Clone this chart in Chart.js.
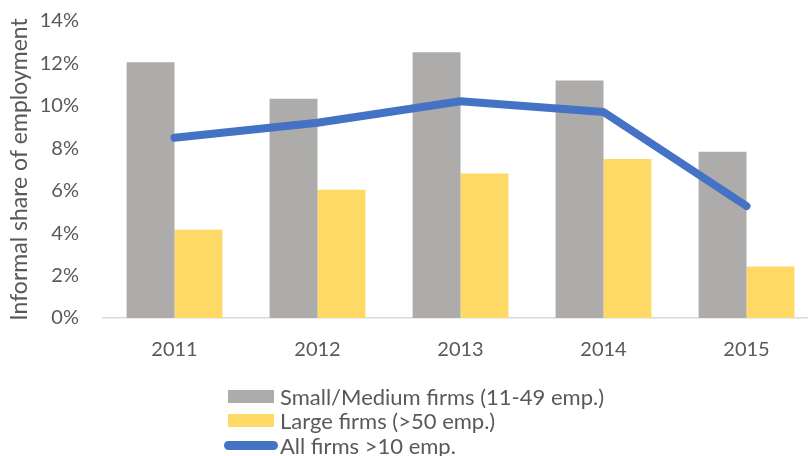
<!DOCTYPE html>
<html>
<head>
<meta charset="utf-8">
<script src="https://cdn.jsdelivr.net/npm/chart.js@4.4.1/dist/chart.umd.min.js"></script>
<style>
  html,body{margin:0;padding:0;background:#fff;overflow:hidden;}
  #wrap{position:relative;width:818px;height:456px;overflow:hidden;}
  #chart{position:absolute;left:0;top:-15px;}
  #legend{position:absolute;left:228px;top:384px;font-family:Lato,sans-serif;font-size:22px;color:#595959;}
  .row{display:flex;align-items:center;height:24.5px;white-space:nowrap;}
  .sw{width:46px;height:13px;margin-right:6px;}
  .sw.line{height:9px;border-radius:5px;width:54px;margin-left:-4px;margin-right:2px;}
</style>
</head>
<body>
<div id="wrap">
  <canvas id="chart" width="818" height="471"></canvas>
  <div id="legend"></div>
</div>
<script>
// informal employment by firm size, in percent
const years = ['2011', '2012', '2013', '2014', '2015'];
const smallMedium = [12.05, 10.33, 12.53, 11.2, 7.84];
const large = [4.16, 6.05, 6.81, 7.49, 2.43];
const allFirms = [8.5, 9.2, 10.22, 9.71, 5.28];

const TXT = '#595959';
const FONT = 'Lato, sans-serif';

const chart = new Chart(document.getElementById('chart'), {
  data: {
    labels: years,
    datasets: [
      {type:'line', label:'All firms >10 emp.', data:allFirms,
       borderColor:'#4472C4', borderWidth:8, pointRadius:0,
       borderCapStyle:'round', borderJoinStyle:'round', tension:0, order:0},
      {type:'bar', label:'Small/Medium firms (11-49 emp.)', data:smallMedium,
       backgroundColor:'#AEABAB', categoryPercentage:0.67, barPercentage:1, order:1},
      {type:'bar', label:'Large firms (>50 emp.)', data:large,
       backgroundColor:'#FFD966', categoryPercentage:0.67, barPercentage:1, order:1}
    ]
  },
  options: {
    responsive:false,
    animation:false,
    layout:{padding:{top:-6, bottom:74, left:0, right:0}},
    plugins:{legend:{display:false}, tooltip:{enabled:false}},
    scales:{
      x:{
        grid:{display:false, drawTicks:false},
        border:{display:true, color:'#D9D9D9', width:1.5},
        ticks:{color:TXT, font:{family:FONT, size:20}, padding:20}
      },
      y:{
        min:0, max:14,
        grid:{display:false, drawTicks:false},
        border:{display:false},
        ticks:{stepSize:2, color:TXT, font:{family:FONT, size:20}, padding:24,
               callback:v=>v+'%'},
        title:{display:true, text:'Informal share of employment', color:TXT,
               font:{family:FONT, size:23}, padding:{top:6, bottom:0}},
        afterFit(scale){ scale.width = 103; }
      }
    }
  }
});

// legend: bars first, then the line
const legend = document.getElementById('legend');
[1, 2, 0].forEach(i => {
  const ds = chart.data.datasets[i];
  const row = document.createElement('div');
  row.className = 'row';
  const sw = document.createElement('span');
  sw.className = ds.type === 'line' ? 'sw line' : 'sw';
  sw.style.background = ds.type === 'line' ? ds.borderColor : ds.backgroundColor;
  const label = document.createElement('span');
  label.textContent = ds.label;
  row.appendChild(sw); row.appendChild(label);
  legend.appendChild(row);
});
</script>
</body>
</html>
